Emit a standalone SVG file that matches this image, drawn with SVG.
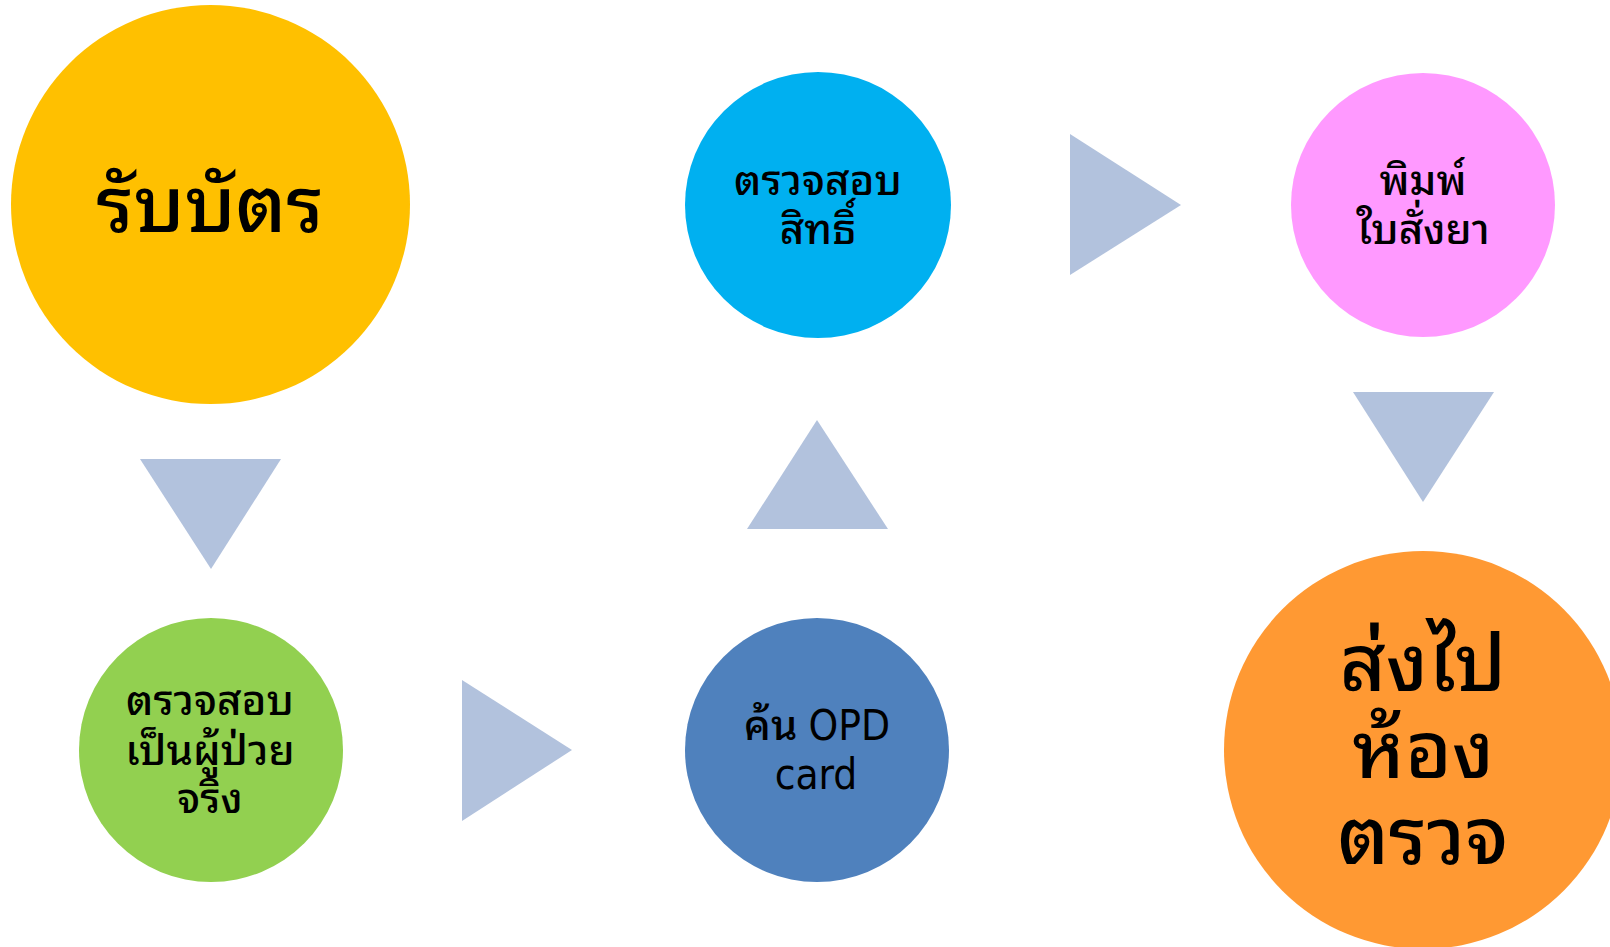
<svg xmlns="http://www.w3.org/2000/svg" width="1610" height="947" viewBox="0 0 1610 947">
<style>
text{font-family:"Noto Sans Thai Looped","DejaVu Sans",sans-serif;font-weight:500;fill:#000;text-anchor:middle}
.lat{font-family:"DejaVu Sans Condensed","DejaVu Sans",sans-serif;font-weight:normal}
.s{font-size:42px}
.m{font-size:79px}
.l{font-size:78px}
.arrow{fill:#B2C2DD}
</style>
<rect width="1610" height="947" fill="#fff"/>
<g id="connectors">
<polygon class="arrow" points="140,459 281,459 211,569"/>
<polygon class="arrow" points="462,680 572,750 462,821"/>
<polygon class="arrow" points="747,529 888,529 817,420"/>
<polygon class="arrow" points="1070,134 1181,205 1070,275"/>
<polygon class="arrow" points="1353,392 1494,392 1423,502"/>
</g>
<g id="node1">
<circle cx="210.5" cy="204.5" r="199.5" fill="#FFC000"/>
<text class="l" x="210" y="232">รับบัตร</text>
</g>
<g id="node2">
<circle cx="211" cy="750" r="132" fill="#92D050"/>
<text class="s" x="210" y="715">ตรวจสอบ</text>
<text class="s" x="210" y="765">เป็นผู้ป่วย</text>
<text class="s" x="210" y="813">จริง</text>
</g>
<g id="node3">
<circle cx="817" cy="750" r="132" fill="#4F81BD"/>
<text class="s" x="817" y="740">ค้น <tspan class="lat">OPD</tspan></text>
<text class="s lat" x="816" y="789">card</text>
</g>
<g id="node4">
<circle cx="818" cy="205" r="133" fill="#00B0F0"/>
<text class="s" x="818" y="195">ตรวจสอบ</text>
<text class="s" x="818" y="244">สิทธิ์</text>
</g>
<g id="node5">
<circle cx="1423" cy="205" r="132" fill="#FF99FF"/>
<text class="s" x="1423" y="195">พิมพ์</text>
<text class="s" x="1423" y="244">ใบสั่งยา</text>
</g>
<g id="node6">
<circle cx="1423" cy="750" r="199" fill="#FF9933"/>
<text class="m" x="1423" y="691">ส่งไป</text>
<text class="m" x="1423" y="778">ห้อง</text>
<text class="m" x="1423" y="864">ตรวจ</text>
</g>
</svg>
